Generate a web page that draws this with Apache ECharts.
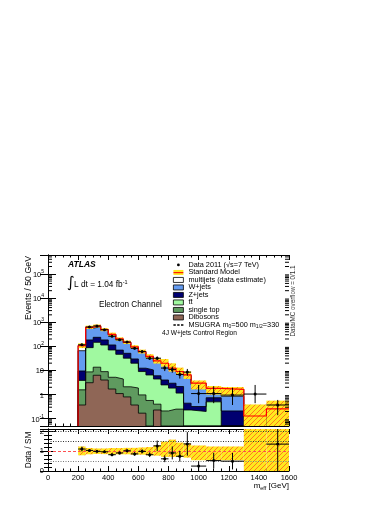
<!DOCTYPE html>
<html>
<head>
<meta charset="utf-8">
<script src="https://cdn.jsdelivr.net/npm/echarts@6/dist/echarts.min.js"></script>
<style>
  html, body { margin: 0; padding: 0; background: #fff; }
  #chart { width: 390px; height: 505px; }
</style>
</head>
<body>
<div id="chart"></div>
<script>
// bin edges, GeV (50 GeV bins up to 950, wider afterwards)
const binEdges = [200, 250, 300, 350, 400, 450, 500, 550, 600, 650, 700, 750, 800, 850, 900, 950, 1050, 1150, 1300, 1450, 1600]

// backgrounds, events / 50 GeV
const multijets = [40, 51, 54, 39, 23, 16, 11, 7, 5, 3.5, 2.2, 1.8, 1.1, 0.85, 0.6, 0.44, 0.27, 0.8, 0.02, 0.035]
const wjets = [56, 377, 405, 267, 177, 115, 84, 57, 43, 24.5, 16.4, 14, 8.3, 6, 5.5, 2.2, 0.8, 0.64, 0.11, 0.07]
const zjets = [5.6, 95, 89, 70, 43, 23, 19, 10, 3.4, 4.0, 1.6, 1.5, 1.1, 1.0, 0.21, 0.12, 0.24, 0.21, 0, 0.05]
const ttbar = [2.3, 79, 132, 104, 65, 42, 30, 18, 8, 5.9, 4.0, 2.3, 1.6, 0.9, 0.23, 0.2, 0.5, 0, 0, 0.1]
const singleTop = [1.2, 5.6, 7.3, 4.9, 3.5, 3.3, 1.3, 1.5, 0.8, 0.57, 0.17, 0.21, 0.25, 0.25, 0, 0, 0, 0, 0, 0]
const dibosons = [0.37, 3.1, 6.3, 4.0, 1.7, 1.1, 0.8, 0.37, 0.17, 0, 0.23, 0, 0, 0, 0, 0, 0, 0, 0, 0]

// data 2011
const dataVals = [115, 630, 690, 480, 260, 185, 150, 82, 60, 32, 32, 12.5, 11, 6.8, 8.5, 1.1, 1.1, 0.95, 1.05, 0.37]
const dataLo = [105, 605, 665, 460, 245, 172, 138, 73, 52, 27, 27, 9.4, 8, 4.6, 6, 0.44, 0.44, 0.37, 0.44, 0.14]
const dataHi = [126, 655, 715, 500, 276, 199, 163, 91, 68, 38, 38, 16, 14.5, 9.5, 11.5, 2.5, 2.2, 1.9, 2.5, 0.6]

// SM uncertainty (relative to SM)
const bandLo = [0.8, 0.85, 0.87, 0.86, 0.84, 0.85, 0.85, 0.83, 0.83, 0.8, 0.78, 0.72, 0.72, 0.72, 0.68, 0.55, 0.55, 0.55, 0, 0]
const bandHi = [1.25, 1.17, 1.15, 1.15, 1.17, 1.17, 1.18, 1.18, 1.2, 1.22, 1.3, 1.5, 1.6, 1.45, 1.4, 1.3, 1.25, 1.25, 3, 2.2]

// data / SM
const ratioVals = [1.12, 1.05, 1.0, 0.98, 0.83, 0.92, 1.03, 0.87, 1.0, 0.83, 1.28, 0.62, 0.92, 0.75, 1.38, 0.25, 0.53, 0.5, null, 1.37]
const ratioErr = [0.12, 0.07, 0.06, 0.06, 0.07, 0.07, 0.08, 0.09, 0.1, 0.12, 0.27, 0.17, 0.33, 0.27, 0.6, 0.25, 0.4, 0.42, null, 1.6]

const Y_MIN = 0.05
const Y_MAX = 6e5
const FONT = '"Liberation Sans", Arial, sans-serif'

// stack, bottom first
const stack = [
  { name: 'Dibosons', values: dibosons, color: '#8f6656' },
  { name: 'single top', values: singleTop, color: '#5f9a5f' },
  { name: 'tt\u0304', values: ttbar, color: '#a0f9a0' },
  { name: 'Z+jets', values: zjets, color: '#000070' },
  { name: 'W+jets', values: wjets, color: '#649bf0' },
  { name: 'multijets (data estimate)', values: multijets, color: '#ffffff' }
]
let run = binEdges.slice(1).map(() => 0)
stack.forEach((s) => {
  run = run.map((v, i) => v + s.values[i])
  s.cum = run.slice()
})
const smTotal = run

function stepData(vals) {
  const pts = [[binEdges[0], Y_MIN]]
  vals.forEach((v, i) => pts.push([binEdges[i], Math.max(v, Y_MIN)]))
  pts.push([binEdges[binEdges.length - 1], Math.max(vals[vals.length - 1], Y_MIN)])
  return pts
}

function makeHatch() {
  const c = document.createElement('canvas')
  c.width = 5
  c.height = 5
  const g = c.getContext('2d')
  g.fillStyle = '#ffe81f'
  g.fillRect(0, 0, 5, 5)
  g.strokeStyle = '#ff7a1a'
  g.lineWidth = 1
  g.beginPath()
  g.moveTo(0, 5); g.lineTo(5, 0)
  g.moveTo(-1, 1); g.lineTo(1, -1)
  g.moveTo(4, 6); g.lineTo(6, 4)
  g.stroke()
  return c
}
const hatchFill = { image: makeHatch(), repeat: 'repeat' }

function makeSmIcon() {
  const c = document.createElement('canvas')
  c.width = 2
  c.height = 5
  const g = c.getContext('2d')
  g.fillStyle = '#ffe81f'
  g.fillRect(0, 0, 2, 5)
  g.fillStyle = '#ff2000'
  g.fillRect(0, 2, 2, 1.2)
  return c
}

const minorLogTicks = []
for (let e = -2; e <= 5; e++) {
  for (let m = 2; m <= 9; m++) {
    const v = m * Math.pow(10, e)
    if (v > Y_MIN && v < Y_MAX) minorLogTicks.push(v)
  }
}

const chart = echarts.init(document.getElementById('chart'), null, { renderer: 'canvas' })

function xAx(grid, pos, labels) {
  return {
    type: 'value', gridIndex: grid, position: pos, min: 0, max: 1600, interval: 200,
    axisLine: { show: true, onZero: false, lineStyle: { color: '#000', width: 1 } },
    axisTick: { show: true, inside: true, length: 5, lineStyle: { color: '#000' } },
    minorTick: { show: true, splitNumber: 4, length: 2.5, lineStyle: { color: '#000' } },
    axisLabel: { show: labels, color: '#000', fontSize: 7.5, margin: 3, fontFamily: FONT, formatter: (v) => String(v) },
    splitLine: { show: false }
  }
}

const logLabel = {
  show: true, color: '#000', fontFamily: FONT, fontSize: 7.5, margin: 4,
  showMinLabel: false, showMaxLabel: false,
  formatter: (v) => {
    const k = Math.round(Math.log10(v))
    if (k === 0) return '{b|1}'
    if (k === 1) return '{b|10}'
    return '{b|10}{s|' + k + '}'
  },
  rich: {
    b: { fontSize: 7.5, fontFamily: FONT, color: '#000', verticalAlign: 'bottom', lineHeight: 10 },
    s: { fontSize: 5, fontFamily: FONT, color: '#000', verticalAlign: 'top', lineHeight: 10 }
  }
}

function yLog(pos, labels) {
  return {
    type: 'log', gridIndex: 0, position: pos, min: Y_MIN, max: Y_MAX, logBase: 10,
    axisLine: { show: true, lineStyle: { color: '#000', width: 1 } },
    axisTick: { show: true, inside: true, length: 8, lineStyle: { color: '#000' } },
    axisLabel: labels ? logLabel : { show: false },
    splitLine: { show: false }
  }
}

function yRatio(pos, labels) {
  return {
    type: 'value', gridIndex: 1, position: pos, min: 0, max: 2.14, interval: 1,
    axisLine: { show: true, lineStyle: { color: '#000', width: 1 } },
    axisTick: { show: true, inside: true, length: 8, lineStyle: { color: '#000' } },
    minorTick: { show: true, splitNumber: 5, length: 4, lineStyle: { color: '#000' } },
    axisLabel: { show: labels, color: '#000', fontSize: 7.5, margin: 4, fontFamily: FONT, showMaxLabel: false },
    splitLine: { show: false }
  }
}

const series = []

// stacked backgrounds: drawn from the total down
stack.slice().reverse().forEach((s) => {
  series.push({
    type: 'line', name: s.name, xAxisIndex: 0, yAxisIndex: 0,
    step: 'end', symbol: 'none', showSymbol: false, silent: true,
    data: stepData(s.cum),
    itemStyle: { color: s.color },
    lineStyle: { color: '#000', width: 0.8 },
    areaStyle: { color: s.color, opacity: 1, origin: 'start' },
    z: 2
  })
})

// SM uncertainty band
series.push({
  type: 'custom', name: 'SM band', xAxisIndex: 0, yAxisIndex: 0, clip: true, silent: true, z: 3,
  data: smTotal.map((v, i) => [binEdges[i], v]),
  renderItem: (params, api) => {
    const i = params.dataIndex
    const p0 = api.coord([binEdges[i], smTotal[i] * bandHi[i]])
    const p1 = api.coord([binEdges[i + 1], Math.max(smTotal[i] * bandLo[i], Y_MIN)])
    return { type: 'rect', shape: { x: p0[0], y: p0[1], width: p1[0] - p0[0], height: p1[1] - p0[1] }, style: { fill: hatchFill } }
  }
})

// SM total line
series.push({
  type: 'line', name: 'Standard Model', xAxisIndex: 0, yAxisIndex: 0,
  step: 'end', symbol: 'none', showSymbol: false, silent: true,
  data: stepData(smTotal),
  itemStyle: { color: '#ff0000' },
  lineStyle: { color: '#ff0000', width: 1.2 },
  z: 4
})

series.push({
  type: 'line', name: 'MSUGRA', xAxisIndex: 0, yAxisIndex: 0, data: [],
  symbol: 'none', itemStyle: { color: '#000' }, lineStyle: { color: '#000', type: 'dashed' }
})

function errorCross(vals, lo, hi) {
  return (params, api) => {
    const i = params.dataIndex
    if (vals[i] == null) return null
    const c = api.coord([(binEdges[i] + binEdges[i + 1]) / 2, vals[i]])
    const xl = api.coord([binEdges[i], vals[i]])[0]
    const xr = api.coord([binEdges[i + 1], vals[i]])[0]
    const yl = api.coord([0, lo(i)])[1]
    const yh = api.coord([0, hi(i)])[1]
    return {
      type: 'group',
      children: [
        { type: 'line', shape: { x1: xl, y1: c[1], x2: xr, y2: c[1] }, style: { stroke: '#000', lineWidth: 1 } },
        { type: 'line', shape: { x1: c[0], y1: yl, x2: c[0], y2: yh }, style: { stroke: '#000', lineWidth: 1 } },
        { type: 'circle', shape: { cx: c[0], cy: c[1], r: 1.5 }, style: { fill: '#000' } }
      ]
    }
  }
}

series.push({
  type: 'custom', name: 'Data 2011 (\u221As=7 TeV)', xAxisIndex: 0, yAxisIndex: 0, clip: true, silent: true, z: 5,
  itemStyle: { color: '#000' },
  data: dataVals.map((v, i) => [binEdges[i], v]),
  renderItem: errorCross(dataVals, (i) => dataLo[i], (i) => dataHi[i])
})

// log minor ticks, both sides
series.push({
  type: 'custom', xAxisIndex: 0, yAxisIndex: 0, silent: true, z: 6,
  data: minorLogTicks.map((v) => [0, v]),
  renderItem: (params, api) => {
    const y = api.coord([0, minorLogTicks[params.dataIndex]])[1]
    const r = params.coordSys
    return {
      type: 'group',
      children: [
        { type: 'line', shape: { x1: r.x, y1: y, x2: r.x + 4, y2: y }, style: { stroke: '#000', lineWidth: 1 } },
        { type: 'line', shape: { x1: r.x + r.width - 4, y1: y, x2: r.x + r.width, y2: y }, style: { stroke: '#000', lineWidth: 1 } }
      ]
    }
  }
})

// ratio band
series.push({
  type: 'custom', xAxisIndex: 2, yAxisIndex: 2, clip: true, silent: true, z: 3,
  data: bandLo.map((v, i) => [binEdges[i], v]),
  renderItem: (params, api) => {
    const i = params.dataIndex
    const p0 = api.coord([binEdges[i], bandHi[i]])
    const p1 = api.coord([binEdges[i + 1], bandLo[i]])
    return { type: 'rect', shape: { x: p0[0], y: p0[1], width: p1[0] - p0[0], height: p1[1] - p0[1] }, style: { fill: hatchFill } }
  }
})

// reference lines in the ratio panel
series.push({
  type: 'line', xAxisIndex: 2, yAxisIndex: 2, data: [], silent: true, z: 4,
  markLine: {
    silent: true, symbol: 'none', animation: false, label: { show: false },
    data: [
      { yAxis: 0.5, lineStyle: { color: '#777', type: [1, 1.5], width: 1 } },
      { yAxis: 1.5, lineStyle: { color: '#333', type: [1, 1.5], width: 1 } },
      { yAxis: 2, lineStyle: { color: '#333', type: [1, 1.5], width: 1 } },
      { yAxis: 1, lineStyle: { color: '#ff5050', type: [3, 2], width: 1 } }
    ]
  }
})

series.push({
  type: 'custom', xAxisIndex: 2, yAxisIndex: 2, clip: true, silent: true, z: 5,
  data: ratioVals.map((v, i) => [binEdges[i], v == null ? 0 : v]),
  renderItem: errorCross(ratioVals, (i) => ratioVals[i] - ratioErr[i], (i) => ratioVals[i] + ratioErr[i])
})

const iconBox = (color) => ({ color: color, borderColor: '#000', borderWidth: 0.8 })

const option = {
  animation: false,
  textStyle: { fontFamily: FONT },
  grid: [
    { left: 48, right: 101, top: 255, height: 171, containLabel: false, outerBoundsMode: 'none' },
    { left: 48, right: 101, top: 429, height: 42, containLabel: false, outerBoundsMode: 'none' }
  ],
  xAxis: [xAx(0, 'bottom', false), xAx(0, 'top', false), xAx(1, 'bottom', true), xAx(1, 'top', false)],
  yAxis: [yLog('left', true), yLog('right', false), yRatio('left', true), yRatio('right', false)],
  legend: {
    orient: 'vertical', left: 173, top: 261.2, itemWidth: 10, itemHeight: 5, itemGap: 0,
    selectedMode: false, padding: 0,
    textStyle: {
      color: '#000', fontSize: 7.3, lineHeight: 7.5, fontFamily: FONT,
      rich: { sub: { fontSize: 5, lineHeight: 7.5, verticalAlign: 'bottom', fontFamily: FONT } }
    },
    formatter: (name) => name === 'MSUGRA' ? 'MSUGRA m{sub|0}=500 m{sub|1/2}=330' : name,
    data: [
      { name: 'Data 2011 (\u221As=7 TeV)', icon: 'path://M0,0M10,5M3.6,2.5a1.4,1.4 0 1,0 2.8,0a1.4,1.4 0 1,0 -2.8,0z', itemStyle: { color: '#000', borderWidth: 0 } },
      { name: 'Standard Model', icon: 'rect', itemStyle: { color: { image: makeSmIcon(), repeat: 'repeat' }, borderWidth: 0 } },
      { name: 'multijets (data estimate)', icon: 'rect', itemStyle: iconBox('#ffffff') },
      { name: 'W+jets', icon: 'rect', itemStyle: iconBox('#649bf0') },
      { name: 'Z+jets', icon: 'rect', itemStyle: iconBox('#000070') },
      { name: 'tt\u0304', icon: 'rect', itemStyle: iconBox('#a0f9a0') },
      { name: 'single top', icon: 'rect', itemStyle: iconBox('#5f9a5f') },
      { name: 'Dibosons', icon: 'rect', itemStyle: iconBox('#8f6656') },
      { name: 'MSUGRA', icon: 'path://M0,0M10,5M0,1.8h2.4v1.5h-2.4zM3.8,1.8h2.4v1.5h-2.4zM7.6,1.8h2.4v1.5h-2.4z', itemStyle: { color: '#000', borderWidth: 0 } }
    ]
  },
  graphic: [
    { type: 'text', x: 68, y: 265, style: { text: 'ATLAS', fill: '#000', fontFamily: FONT, fontSize: 8.5, fontWeight: 'bold', fontStyle: 'italic', align: 'left', verticalAlign: 'middle' } },
    { type: 'text', x: 67, y: 283.5, style: { text: '\u222B', fill: '#000', fontFamily: '"DejaVu Sans", sans-serif', fontSize: 15, align: 'left', verticalAlign: 'middle' } },
    {
      type: 'text', x: 74, y: 285,
      style: {
        text: 'L dt = 1.04 fb{s|-1}', fill: '#000', fontFamily: FONT, fontSize: 8.3, align: 'left', verticalAlign: 'middle',
        rich: { s: { fontSize: 5.5, fontFamily: FONT, verticalAlign: 'top', lineHeight: 12 } }
      }
    },
    { type: 'text', x: 99, y: 305, style: { text: 'Electron Channel', fill: '#000', fontFamily: FONT, fontSize: 8.2, align: 'left', verticalAlign: 'middle' } },
    { type: 'text', x: 162, y: 333, style: { text: '4J W+jets Control Region', fill: '#000', fontFamily: FONT, fontSize: 6.6, align: 'left', verticalAlign: 'middle' } },
    { type: 'text', x: 293, y: 301, rotation: Math.PI / 2, style: { text: 'Data/MC overflow = 0/1.1', fill: '#333', fontFamily: FONT, fontSize: 6.3, align: 'center', verticalAlign: 'middle' } },
    { type: 'text', x: 28.5, y: 256, rotation: Math.PI / 2, style: { text: 'Events / 50 GeV', fill: '#000', fontFamily: FONT, fontSize: 8.8, align: 'right', verticalAlign: 'middle' } },
    { type: 'text', x: 28.5, y: 450, rotation: Math.PI / 2, style: { text: 'Data / SM', fill: '#000', fontFamily: FONT, fontSize: 8.2, align: 'center', verticalAlign: 'middle' } },
    {
      type: 'text', x: 289, y: 486,
      style: {
        text: 'm{sub|eff} [GeV]', fill: '#000', fontFamily: FONT, fontSize: 8, align: 'right', verticalAlign: 'middle',
        rich: { sub: { fontSize: 5.5, fontFamily: FONT, verticalAlign: 'bottom', lineHeight: 11 } }
      }
    }
  ],
  series: series
}

chart.setOption(option)
</script>
</body>
</html>
